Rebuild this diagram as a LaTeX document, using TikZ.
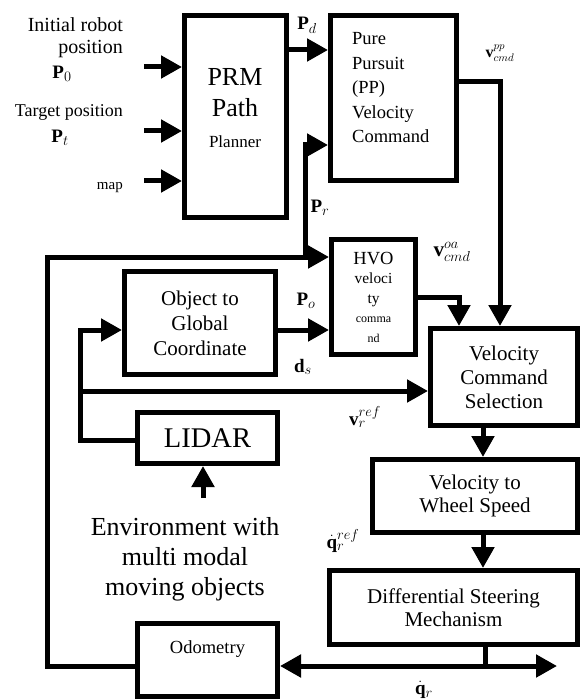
\documentclass[tikz,border=0pt]{standalone}
\usepackage{fontspec}
\setmainfont{Liberation Serif}
\usetikzlibrary{arrows.meta}
\newcommand{\fs}[2]{\fontsize{#1}{#2}\selectfont}
\begin{document}
\begin{tikzpicture}[x=1pt,y=-1pt,
  box/.style={draw,line width=5pt,inner sep=0pt,align=center},
  arr/.style={line width=5pt,-{Triangle[length=21pt,width=22pt]}},
  dblarr/.style={line width=5pt,{Triangle[length=21pt,width=22pt]}-{Triangle[length=21pt,width=22pt]}},
  wire/.style={line width=5pt},
  txt/.style={inner sep=0pt,align=center},
  lbl/.style={inner sep=0pt,font=\fs{19}{21}}]
\useasboundingbox (0,0) rectangle (582,700);

% boxes
\node[box,minimum width=102pt,minimum height=202pt] (prm) at (235.5,116.5) {};
\node[txt,font=\fs{26}{31}] (prmtxt) at (235,108) {PRM\\Path\\\fs{17}{22}Planner};
\node[box,minimum width=126pt,minimum height=165pt] (pp) at (393.5,98) {};
\node[txt,align=left,anchor=west,font=\fs{18.5}{24.5}] (pptxt) at (352,88) {Pure\\Pursuit\\(PP)\\Velocity\\Command};
\node[box,minimum width=84pt,minimum height=115pt,font=\fs{15.4}{19.5}] (hvo) at (373.5,297)
  {\fs{18.5}{19}HVO\\veloci\\ty\\\fs{12}{14}comma\\\fs{12}{14}nd};
\node[box,minimum width=151pt,minimum height=103pt,font=\fs{21}{25}] (obj) at (200,323)
  {Object to\\Global\\Coordinate};
\node[box,minimum width=140pt,minimum height=51pt,font=\fs{28.5}{30}] (lidar) at (207.5,438)
  {LIDAR};
\node[box,minimum width=147pt,minimum height=97pt,font=\fs{21}{24}] (vcs) at (504,377)
  {Velocity\\Command\\Selection};
\node[box,minimum width=205pt,minimum height=73pt,font=\fs{21}{23}] (vws) at (475,496)
  {Velocity to\\Wheel Speed};
\node[box,minimum width=248pt,minimum height=74pt,font=\fs{21}{23}] (dsm) at (453.5,607.5)
  {Differential Steering\\Mechanism};
\node[box,minimum width=140pt,minimum height=73pt] (odo) at (207.5,660) {};
\node[txt,anchor=base,font=\fs{18.5}{20}] (odotxt) at (207.5,653) {Odometry};
\node[txt,font=\fs{26}{30}] (env) at (185,559) {Environment with\\multi modal\\moving objects};

% input labels
\node[txt,align=right,anchor=north east,font=\fs{20}{22}] (l0) at (123,17.5) {Initial robot\\position};
\node[lbl] (p0) at (62,74) {$\mathbf{P}_0$};
\node[txt,anchor=base east,font=\fs{18}{20}] (l1) at (123,117) {Target position};
\node[lbl] (pt) at (60,138) {$\mathbf{P}_t$};
\node[txt,anchor=base east,font=\fs{15}{17}] (l2) at (123,190) {map};

% input arrows
\coordinate (i0) at (144,67);
\coordinate (i1) at (144,131);
\coordinate (i2) at (144,181);
\draw[arr] (i0) -- (i0 -| prm.west);
\draw[arr] (i1) -- (i1 -| prm.west);
\draw[arr] (i2) -- (i2 -| prm.west);

% Pd
\draw[arr] (prm.east |- 0,50) -- (pp.west |- 0,50);
\node[lbl] (pdl) at (307,25) {$\mathbf{P}_d$};

% PP output
\coordinate (ppo) at (500,0);
\draw[arr] (pp.east |- 0,82) -| (vcs.north -| ppo);
\node[lbl,font=\fs{16}{18}] (vppl) at (500,53) {$\mathbf{v}_{cmd}^{pp}$};

% HVO output
\coordinate (hvoo) at (459,0);
\draw[arr] (hvo.east |- 0,297) -| (vcs.north -| hvoo);
\node[lbl,font=\fs{21}{23}] (voal) at (452,252) {$\mathbf{v}_{cmd}^{oa}$};

% robot pose loop
\coordinate (lc) at (47,257);
\coordinate (br) at (305,257);
\coordinate (ppin) at (0,145);
\draw[arr] (odo.west |- 0,666) -| (lc) -- (hvo.west |- lc);
\draw[arr] (br) |- (pp.west |- ppin);
\node[lbl] (prl) at (320,208) {$\mathbf{P}_r$};

% object position
\draw[arr] (obj.east |- 0,330) -- (hvo.west |- 0,330);
\node[lbl] (pol) at (306,301) {$\mathbf{P}_o$};
\node[lbl] (dsl) at (303,367) {$\mathbf{d}_s$};

% LIDAR outputs
\coordinate (lt) at (80,330);
\coordinate (lb) at (80,391);
\draw[arr] (lidar.west |- 0,440) -| (lt) -- (obj.west |- lt);
\draw[arr] (lb) -- (vcs.west |- lb);
\node[lbl] (vrl) at (365,417) {$\mathbf{v}_r^{ref}$};

% environment to LIDAR
\coordinate (envtop) at (203,498);
\draw[arr] (envtop) -- (lidar.south -| envtop);

% chain
\coordinate (cx) at (483,0);
\draw[arr] (vcs.south -| cx) -- (vws.north -| cx);
\draw[arr] (vws.south -| cx) -- (dsm.north -| cx);
\node[lbl] (qrefl) at (343,541) {$\dot{\mathbf{q}}_r^{ref}$};

% output
\coordinate (dx) at (485,668.5);
\coordinate (qend) at (557,666);
\draw[wire] (dsm.south -| dx) -- (dx);
\draw[dblarr] (odo.east |- qend) -- (qend);
\node[lbl] (qrl) at (424,690) {$\dot{\mathbf{q}}_r$};
\end{tikzpicture}
\end{document}
